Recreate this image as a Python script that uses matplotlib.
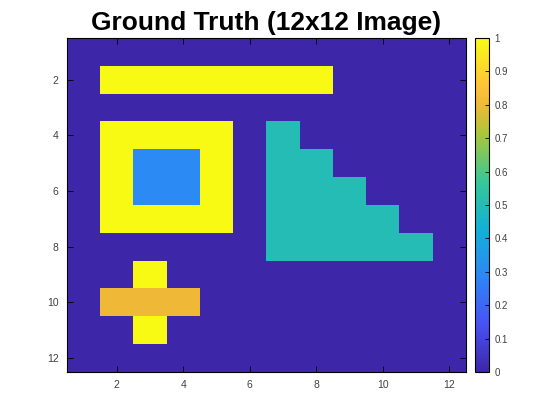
import matplotlib
matplotlib.use("Agg")
import matplotlib.pyplot as plt
import numpy as np
from matplotlib.colors import LinearSegmentedColormap

plt.rcParams["font.family"] = ["Liberation Sans", "DejaVu Sans"]

# 12x12 ground truth image, row 1 at top
image = [
    [0, 0, 0, 0, 0, 0, 0, 0, 0, 0, 0, 0],
    [0, 1, 1, 1, 1, 1, 1, 1, 0, 0, 0, 0],
    [0, 0, 0, 0, 0, 0, 0, 0, 0, 0, 0, 0],
    [0, 1, 1, 1, 1, 0, 0.5, 0, 0, 0, 0, 0],
    [0, 1, 0.3, 0.3, 1, 0, 0.5, 0.5, 0, 0, 0, 0],
    [0, 1, 0.3, 0.3, 1, 0, 0.5, 0.5, 0.5, 0, 0, 0],
    [0, 1, 1, 1, 1, 0, 0.5, 0.5, 0.5, 0.5, 0, 0],
    [0, 0, 0, 0, 0, 0, 0.5, 0.5, 0.5, 0.5, 0.5, 0],
    [0, 0, 1, 0, 0, 0, 0, 0, 0, 0, 0, 0],
    [0, 0.8, 0.8, 0.8, 0, 0, 0, 0, 0, 0, 0, 0],
    [0, 0, 1, 0, 0, 0, 0, 0, 0, 0, 0, 0],
    [0, 0, 0, 0, 0, 0, 0, 0, 0, 0, 0, 0],
]
axis_ticks = [2, 4, 6, 8, 10, 12]
cbar_ticks = [0, 0.1, 0.2, 0.3, 0.4, 0.5, 0.6, 0.7, 0.8, 0.9, 1]
cbar_labels = ["0", "0.1", "0.2", "0.3", "0.4", "0.5", "0.6", "0.7", "0.8", "0.9", "1"]

# rough parula
parula = LinearSegmentedColormap.from_list("parula", [
    (0.0, (0.2422, 0.1504, 0.6603)),
    (1 / 7, (0.2810, 0.3228, 0.9579)),
    (2 / 7, (0.1786, 0.5289, 0.9682)),
    (3 / 7, (0.0689, 0.6948, 0.8394)),
    (4 / 7, (0.2161, 0.7843, 0.5923)),
    (5 / 7, (0.6720, 0.7793, 0.2227)),
    (0.8, (0.94, 0.725, 0.216)),
    (6 / 7, (0.9970, 0.7659, 0.2199)),
    (1.0, (0.9769, 0.9839, 0.0805)),
], N=256)

fig = plt.figure(figsize=(5.6, 4.2), dpi=100)
ax = fig.add_axes([0.1196, 0.1143, 0.7125, 0.7952])
cax = fig.add_axes([0.848, 0.1143, 0.025, 0.7952])

data = np.array(image)
n = data.shape[0]
im = ax.imshow(data, cmap=parula, vmin=0, vmax=1, aspect="auto",
               extent=(0.5, n + 0.5, n + 0.5, 0.5), interpolation="nearest")
ax.set_xticks(axis_ticks)
ax.set_yticks(axis_ticks)
ax.tick_params(direction="in", length=4, width=0.6, labelsize=7.5,
               labelcolor="#404040", top=True, right=True, pad=6)
for s in ax.spines.values():
    s.set_linewidth(0.8)
ax.set_title("Ground Truth (12x12 Image)", fontsize=19, fontweight="bold", pad=6)

cb = fig.colorbar(im, cax=cax, ticks=cbar_ticks)
cb.ax.set_yticklabels(cbar_labels)
cb.ax.tick_params(direction="in", length=3, width=0.6, labelsize=7,
                  labelcolor="#404040", pad=4)
cb.outline.set_linewidth(0.8)

fig.savefig("out.png", dpi=100)
